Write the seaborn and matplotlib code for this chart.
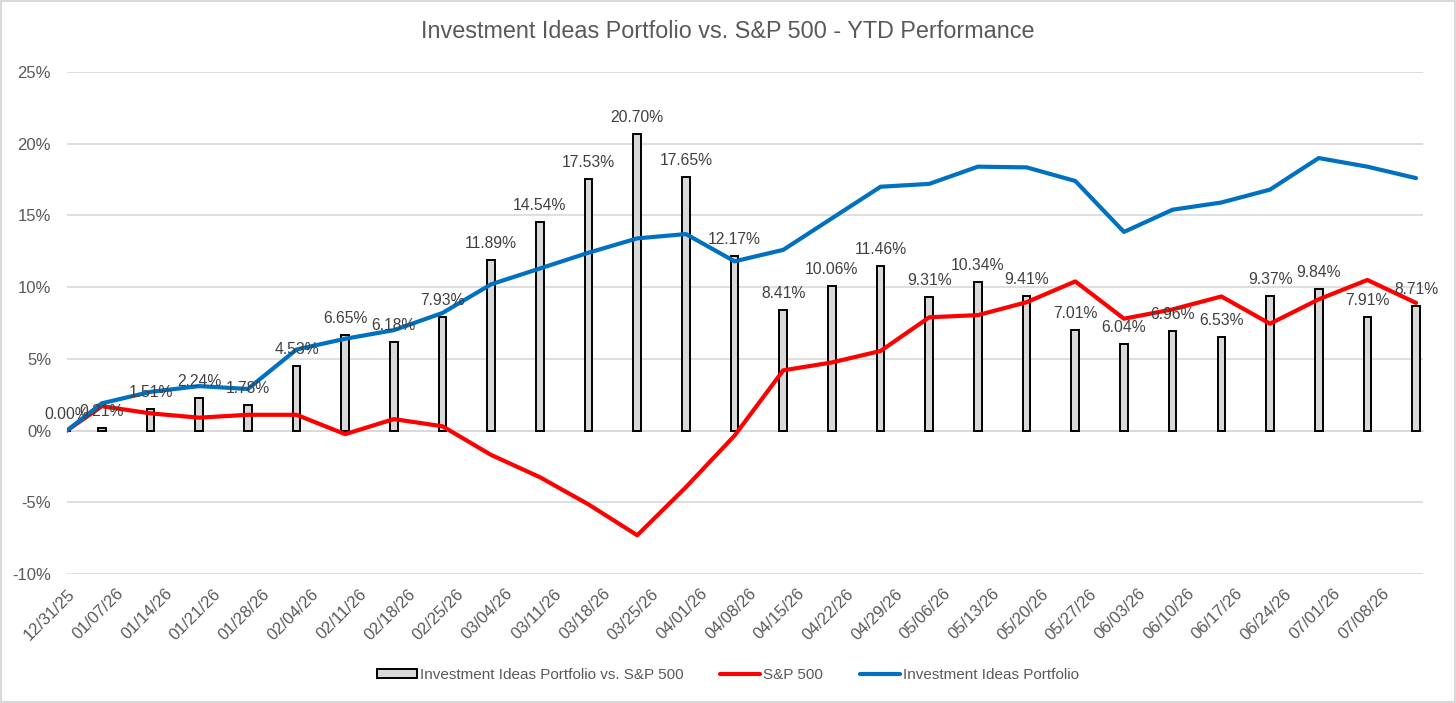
import matplotlib
matplotlib.use("Agg")
import matplotlib.pyplot as plt
import matplotlib.dates as mdates
import numpy as np
import pandas as pd
import seaborn as sns
from matplotlib.patches import Patch, Rectangle
from matplotlib.lines import Line2D

# Data (YTD %, weekly)
dates = ['2025-12-31', '2026-01-05', '2026-01-12', '2026-01-19', '2026-01-26', '2026-02-02',
         '2026-02-09', '2026-02-16', '2026-02-23', '2026-03-02', '2026-03-09', '2026-03-16',
         '2026-03-23', '2026-03-30', '2026-04-06', '2026-04-13', '2026-04-20', '2026-04-27',
         '2026-05-04', '2026-05-11', '2026-05-18', '2026-05-25', '2026-06-01', '2026-06-08',
         '2026-06-15', '2026-06-22', '2026-06-29', '2026-07-06', '2026-07-13']
portfolio = [0.0, 1.9, 2.7, 3.1, 2.9, 5.65, 6.4, 7.0, 8.2, 10.2, 11.3, 12.4, 13.4, 13.7,
             11.8, 12.6, 14.8, 17.0, 17.2, 18.4, 18.35, 17.4, 13.85, 15.4, 15.9, 16.8,
             19.0, 18.4, 17.6]
sp500 = [0.0, 1.7, 1.2, 0.9, 1.1, 1.1, -0.25, 0.8, 0.3, -1.7, -3.25, -5.15, -7.3, -3.95,
         -0.35, 4.2, 4.75, 5.55, 7.9, 8.05, 8.95, 10.4, 7.8, 8.45, 9.35, 7.45, 9.15,
         10.5, 8.9]
diff = [0.00, 0.21, 1.51, 2.24, 1.78, 4.53, 6.65, 6.18, 7.93, 11.89, 14.54, 17.53, 20.70,
        17.65, 12.17, 8.41, 10.06, 11.46, 9.31, 10.34, 9.41, 7.01, 6.04, 6.96, 6.53, 9.37,
        9.84, 7.91, 8.71]
tick_labels = ['12/31/25', '01/07/26', '01/14/26', '01/21/26', '01/28/26', '02/04/26',
               '02/11/26', '02/18/26', '02/25/26', '03/04/26', '03/11/26', '03/18/26',
               '03/25/26', '04/01/26', '04/08/26', '04/15/26', '04/22/26', '04/29/26',
               '05/06/26', '05/13/26', '05/20/26', '05/27/26', '06/03/26', '06/10/26',
               '06/17/26', '06/24/26', '07/01/26', '07/08/26']

df = pd.DataFrame({'Date': pd.to_datetime(dates), 'Portfolio': portfolio,
                   'SP500': sp500, 'Diff': diff})
ticks = pd.to_datetime(tick_labels, format='%m/%d/%y')

sns.set_style("white")
plt.rcParams['font.family'] = ['Liberation Sans', 'DejaVu Sans']

text_gray = '#595959'
grid_gray = '#D9D9D9'

fig = plt.figure(figsize=(14.56, 7.03), dpi=100)
ax = fig.add_axes([67 / 1456, 1 - 574 / 703, (1423 - 67) / 1456, (574 - 72) / 703])

# bars
ax.bar(df['Date'], df['Diff'], width=1.1, color='#D9D9D9', edgecolor='black',
       linewidth=1.4, zorder=2)

# lines
sns.lineplot(data=df, x='Date', y='SP500', color='#FF0000', linewidth=3, ax=ax, zorder=3)
sns.lineplot(data=df, x='Date', y='Portfolio', color='#0070C0', linewidth=3, ax=ax, zorder=4)

# data labels
for d, v in zip(df['Date'], df['Diff']):
    ax.annotate(f'{v:.2f}%', (d, v), xytext=(0, 9), textcoords='offset pixels',
                ha='center', va='bottom', fontsize=11.3, color='#404040', zorder=5)

ax.set_ylim(-10, 25)
ax.set_yticks(np.arange(-10, 26, 5))
ax.set_yticklabels([f'{int(t)}%' for t in np.arange(-10, 26, 5)])
ax.set_xlim(ticks[0], ticks[0] + pd.Timedelta(days=195))
ax.set_xticks(ticks)
ax.xaxis.set_major_formatter(mdates.DateFormatter('%m/%d/%y'))

ax.yaxis.grid(True, color=grid_gray, linewidth=1.2, zorder=0)
ax.xaxis.grid(False)
for s in ['left', 'right', 'top']:
    ax.spines[s].set_visible(False)
ax.spines['bottom'].set_position(('data', 0))
ax.spines['bottom'].set_color(grid_gray)
ax.spines['bottom'].set_linewidth(1.2)
ax.spines['bottom'].set_zorder(1)

ax.tick_params(axis='y', length=0, labelsize=12, labelcolor=text_gray, pad=11.5)
ax.tick_params(axis='x', length=4, color=grid_gray, width=1.2, labelsize=12,
               labelcolor=text_gray, pad=108)
for lbl in ax.get_xticklabels():
    lbl.set_rotation(45)
    lbl.set_ha('right')
    lbl.set_rotation_mode('anchor')
    lbl.set_va('top')

ax.set_xlabel('')
ax.set_ylabel('')

fig.text(0.5, 1 - 32 / 703, 'Investment Ideas Portfolio vs. S&P 500 - YTD Performance',
         ha='center', va='center', fontsize=16.8, color=text_gray)

handles = [Patch(facecolor='#D9D9D9', edgecolor='black', linewidth=1.4),
           Line2D([0], [0], color='#FF0000', linewidth=3),
           Line2D([0], [0], color='#0070C0', linewidth=3)]
labels = ['Investment Ideas Portfolio vs. S&P 500', 'S&P 500', 'Investment Ideas Portfolio']
fig.legend(handles, labels, loc='center', bbox_to_anchor=(0.5, 1 - 675 / 703), ncol=3,
           frameon=False, fontsize=11, handlelength=2.6, handleheight=0.6,
           handletextpad=0.2, columnspacing=2.4, labelcolor=text_gray)

# chart border
fig.patches.append(Rectangle((0.001, 0.001), 0.998, 0.998, transform=fig.transFigure,
                             fill=False, edgecolor=grid_gray, linewidth=1.5))

fig.savefig('out.png', dpi=100)
